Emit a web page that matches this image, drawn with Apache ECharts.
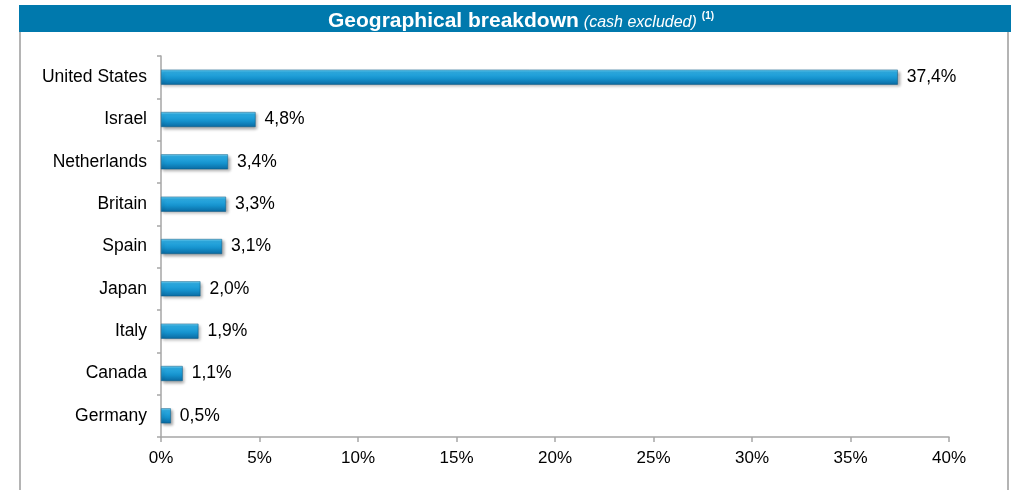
<!DOCTYPE html>
<html>
<head>
    <meta charset="utf-8">
    <script src="https://cdn.jsdelivr.net/npm/echarts@6/dist/echarts.min.js"></script>
    <style>
        html, body { margin: 0; padding: 0; background: #fff; }
    </style>
</head>
<body>
<div id="main" style="width: 1011px;height:490px"></div>

<script type="text/javascript">
    // data
    var countries = ['United States', 'Israel', 'Netherlands', 'Britain', 'Spain', 'Japan', 'Italy', 'Canada', 'Germany'];
    var shares = [37.4, 4.8, 3.4, 3.3, 3.1, 2.0, 1.9, 1.1, 0.5];
    var xTicks = [0, 5, 10, 15, 20, 25, 30, 35, 40];

    var chartDom = document.getElementById('main');
    var myChart = echarts.init(chartDom);
    var option;

    var axisGrey = '#a6a6a6';
    var font = 'Liberation Sans, Arial, sans-serif';

    option = {
        animation: false,
        textStyle: { fontFamily: font },
        title: {
            text: '{b|Geographical breakdown} {i|(cash excluded)} {s|(1)}',
            left: 516,
            textAlign: 'center',
            top: 6,
            textStyle: {
                rich: {
                    b: { color: '#fff', fontSize: 21, fontWeight: 'bold', fontFamily: font },
                    i: { color: '#fff', fontSize: 16, fontWeight: 'normal', fontStyle: 'italic', fontFamily: font, padding: [3, 0, 0, 0] },
                    s: { color: '#fff', fontSize: 10, fontWeight: 'bold', fontFamily: font, padding: [0, 0, 10, 0] }
                }
            }
        },
        graphic: [
            { type: 'rect', z: -1, shape: { x: 19, y: 5, width: 992, height: 27 }, style: { fill: '#0079ad' } },
            { type: 'rect', z: -1, shape: { x: 19, y: 32, width: 2, height: 458 }, style: { fill: '#b4b4b4' } },
            { type: 'rect', z: -1, shape: { x: 1007, y: 32, width: 2, height: 458 }, style: { fill: '#b4b4b4' } }
        ],
        grid: { left: 161, right: 62, top: 56, bottom: 53, containLabel: false },
        xAxis: {
            type: 'value',
            min: xTicks[0],
            max: xTicks[xTicks.length - 1],
            interval: 5,
            splitLine: { show: false },
            axisLine: { show: true, lineStyle: { color: axisGrey, width: 1.5 } },
            axisTick: { show: true, length: 5, lineStyle: { color: axisGrey, width: 1.5 } },
            axisLabel: {
                color: '#000', fontSize: 17, margin: 13,
                formatter: function (v) { return v + '%'; }
            }
        },
        yAxis: {
            type: 'category',
            inverse: true,
            data: countries,
            axisLine: { show: true, lineStyle: { color: axisGrey, width: 1.5 } },
            axisTick: { show: true, length: 4, lineStyle: { color: axisGrey, width: 1.5 } },
            axisLabel: { color: '#000', fontSize: 17.5, margin: 14 }
        },
        series: [
            {
                type: 'bar',
                data: shares,
                barWidth: 15,
                itemStyle: {
                    color: new echarts.graphic.LinearGradient(0, 0, 0, 1, [
                        { offset: 0, color: '#7fd8f7' },
                        { offset: 0.15, color: '#2eaee5' },
                        { offset: 0.6, color: '#1592cd' },
                        { offset: 1, color: '#0a6aa2' }
                    ]),
                    borderColor: '#0a5a85',
                    borderWidth: 0.5,
                    shadowColor: 'rgba(0,0,0,0.35)',
                    shadowBlur: 3,
                    shadowOffsetX: 2,
                    shadowOffsetY: 2
                },
                label: {
                    show: true,
                    position: 'right',
                    distance: 9,
                    color: '#000',
                    fontSize: 17.5,
                    formatter: function (p) { return p.value.toFixed(1).replace('.', ',') + '%'; }
                }
            }
        ]
    };

    option && myChart.setOption(option);
</script>
</body>
</html>
